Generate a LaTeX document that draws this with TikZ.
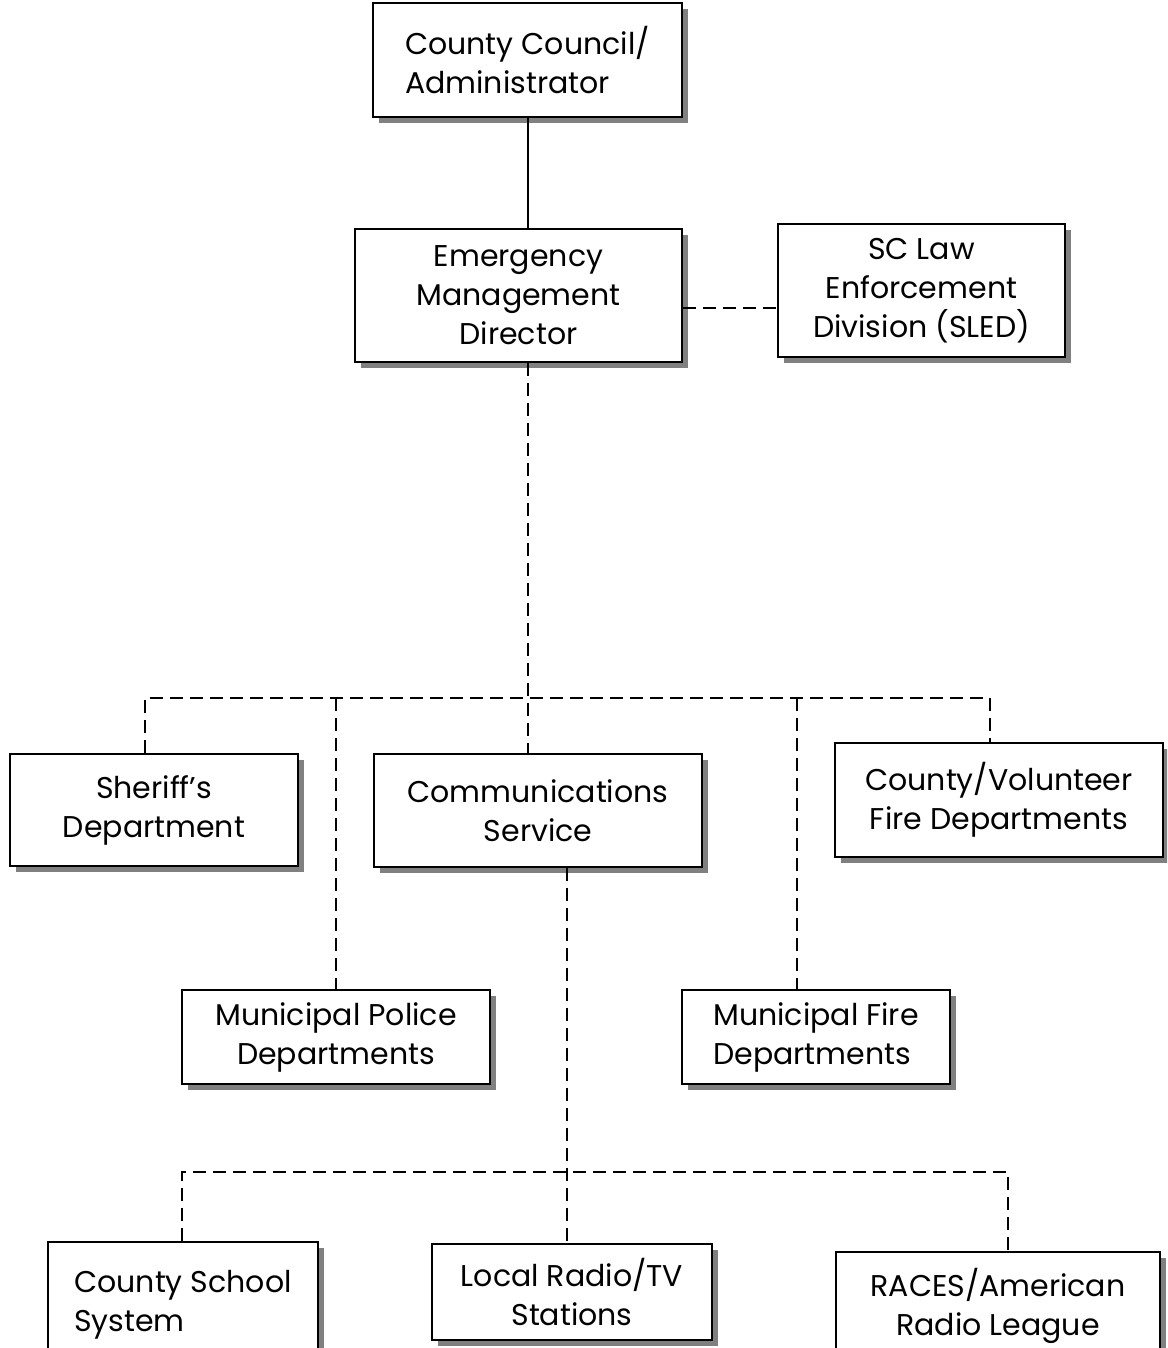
\documentclass[tikz,border=0pt]{standalone}
\usepackage{fontspec}
\setmainfont{Poppins}
\usetikzlibrary{shadows}
\tikzset{
  unit/.style={draw, line width=2pt, fill=white, align=center, inner sep=0pt,
    font=\fontsize{30}{39}\selectfont,
    drop shadow={shadow xshift=6pt, shadow yshift=-6pt, fill=black!50, opacity=1}},
  link/.style={line width=2pt, dash pattern=on 13pt off 7pt},
}
\begin{document}
\begin{tikzpicture}[x=1pt, y=-1pt]
\useasboundingbox (0,0) rectangle (1167,1348);
\clip (0,0) rectangle (1167,1348);
% boxes
\node[unit, align=left, minimum width=309pt, minimum height=114pt] (council) at (527.5,60) {County Council/\\Administrator};
\node[unit, minimum width=327pt, minimum height=133pt] (director) at (518.5,295.5) {Emergency\\Management\\Director};
\node[unit, minimum width=287pt, minimum height=133pt] (sled) at (921.5,290.5) {SC Law\\Enforcement\\Division (SLED)};
\node[unit, minimum width=288pt, minimum height=112pt] (sheriff) at (154,810) {Sheriff's\\Department};
\node[unit, minimum width=328pt, minimum height=113pt] (comms) at (538,810.5) {Communications\\Service};
\node[unit, minimum width=328pt, minimum height=114pt] (firevol) at (999,800) {County/Volunteer\\Fire Departments};
\node[unit, minimum width=308pt, minimum height=94pt] (police) at (336,1037) {Municipal Police\\Departments};
\node[unit, align=left, minimum width=268pt, minimum height=94pt] (firemun) at (816,1037) {Municipal Fire\\Departments};
\node[unit, align=left, minimum width=270pt, minimum height=126pt] (school) at (183,1305) {County School\\System};
\node[unit, minimum width=280pt, minimum height=96pt] (radio) at (572,1292) {Local Radio/TV\\Stations};
\node[unit, minimum width=324pt, minimum height=108pt] (races) at (998,1306) {RACES/American\\Radio League};
% taps on the two buses
\coordinate (bus) at (528,698);
\coordinate (busL) at (145,698);
\coordinate (busP) at (336,698);
\coordinate (busF) at (797,698);
\coordinate (busR) at (990,698);
\coordinate (low) at (567,1172);
\coordinate (lowL) at (182,1172);
\coordinate (lowR) at (1008,1172);
% connectors
\draw[line width=2pt] (council.south) -- (council.south |- director.north);
\draw[link] ([yshift=-12pt]director.east) -- ([yshift=-12pt]director.east -| sled.west);
\draw[link] (director.south -| bus) -- (bus) -- (bus |- comms.north);
\draw[link] (busL |- sheriff.north) -- (busL) -- (busR) -- (busR |- firevol.north);
\draw[link] (busP) -- (busP |- police.north);
\draw[link] (busF) -- (busF |- firemun.north);
\draw[link] (comms.south -| low) -- (low) -- (low |- radio.north);
\draw[link] (lowL |- school.north) -- (lowL) -- (lowR) -- (lowR |- races.north);
\end{tikzpicture}
\end{document}
